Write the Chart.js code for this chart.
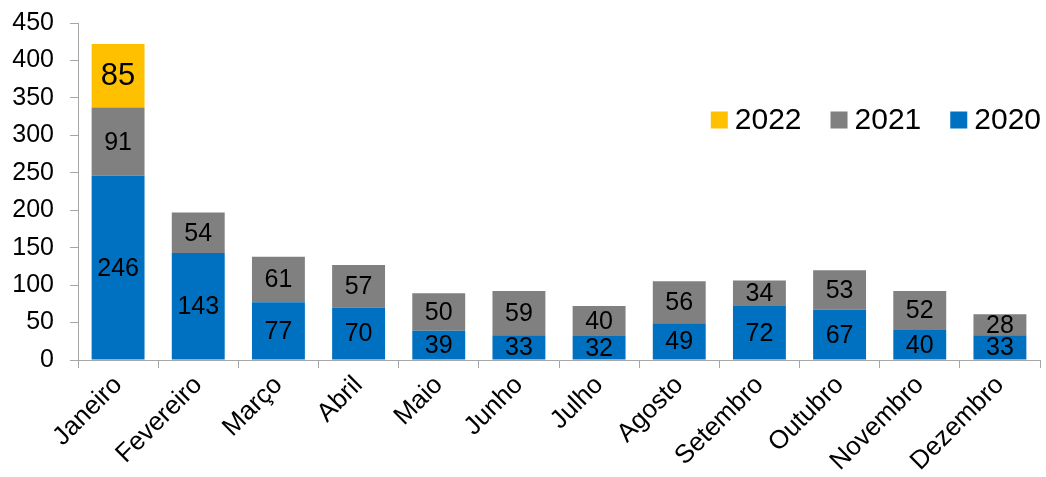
<!DOCTYPE html>
<html>
<head>
<meta charset="utf-8">
<script src="https://cdn.jsdelivr.net/npm/chart.js@4/dist/chart.umd.min.js"></script>
<style>
  html, body { margin: 0; padding: 0; background: #fff; }
  #chart { display: block; }
</style>
</head>
<body>
<canvas id="chart" width="1046" height="477"></canvas>
<script>
const months = ['Janeiro', 'Fevereiro', 'Março', 'Abril', 'Maio', 'Junho', 'Julho', 'Agosto', 'Setembro', 'Outubro', 'Novembro', 'Dezembro'];
const values2020 = [246, 143, 77, 70, 39, 33, 32, 49, 72, 67, 40, 33];
const values2021 = [91, 54, 61, 57, 50, 59, 40, 56, 34, 53, 52, 28];
const values2022 = [85, null, null, null, null, null, null, null, null, null, null, null];
const yTicks = [0, 50, 100, 150, 200, 250, 300, 350, 400, 450];

const fontFamily = '"Liberation Sans", Arial, sans-serif';
const axisColor = '#A6A6A6';

// value labels centred in each stacked segment
const segmentLabels = {
  id: 'segmentLabels',
  afterDatasetsDraw(chart) {
    const { ctx } = chart;
    ctx.save();
    ctx.textAlign = 'center';
    ctx.textBaseline = 'middle';
    ctx.fillStyle = '#000';
    chart.data.datasets.forEach((dataset, i) => {
      const meta = chart.getDatasetMeta(i);
      ctx.font = `${dataset.labelSize}px ${fontFamily}`;
      meta.data.forEach((bar, j) => {
        const value = dataset.data[j];
        if (value == null) return;
        const { x, y, base } = bar.getProps(['x', 'y', 'base'], true);
        ctx.fillText(String(value), x, (y + base) / 2 + 1);
      });
    });
    ctx.restore();
  }
};

// legend drawn inside the plot, right aligned, newest year first
const insideLegend = {
  id: 'insideLegend',
  afterDraw(chart) {
    const { ctx, chartArea } = chart;
    const size = 17, gap = 7, spacing = 29, y = 120;
    ctx.save();
    ctx.font = `30px ${fontFamily}`;
    ctx.textBaseline = 'middle';
    ctx.textAlign = 'left';
    let x = chartArea.right + 1;
    [...chart.data.datasets].forEach((dataset) => {
      const w = ctx.measureText(dataset.label).width;
      x -= w;
      ctx.fillStyle = '#000';
      ctx.fillText(dataset.label, x, y + 1);
      x -= gap + size;
      ctx.fillStyle = dataset.backgroundColor;
      ctx.fillRect(x, y - size / 2, size, size);
      x -= spacing;
    });
    ctx.restore();
  }
};

new Chart(document.getElementById('chart'), {
  type: 'bar',
  data: {
    labels: months,
    datasets: [
      { label: '2020', data: values2020, backgroundColor: '#0070C0', labelSize: 25 },
      { label: '2021', data: values2021, backgroundColor: '#808080', labelSize: 25 },
      { label: '2022', data: values2022, backgroundColor: '#FFC000', labelSize: 31 }
    ]
  },
  options: {
    responsive: false,
    animation: false,
    layout: { padding: { top: 23, right: 6, left: 0, bottom: 0 } },
    datasets: { bar: { barPercentage: 0.66, categoryPercentage: 1 } },
    plugins: {
      legend: { display: false },
      tooltip: { enabled: false }
    },
    scales: {
      x: {
        stacked: true,
        afterFit(scale) { scale.height = 117; },
        grid: { offset: true, drawOnChartArea: false, tickLength: 8, color: axisColor },
        border: { color: axisColor, width: 1 },
        ticks: {
          color: '#000',
          font: { family: fontFamily, size: 26 },
          minRotation: 45,
          maxRotation: 45,
          padding: 2
        }
      },
      y: {
        stacked: true,
        min: yTicks[0],
        max: yTicks[yTicks.length - 1],
        afterFit(scale) {
          scale.width = 78;
          scale.paddingTop = 0;
          scale.paddingBottom = 0;
        },
        afterBuildTicks(scale) { scale.ticks = yTicks.map((v) => ({ value: v })); },
        grid: { drawOnChartArea: false, tickLength: 8, color: axisColor },
        border: { color: axisColor, width: 1 },
        ticks: {
          color: '#000',
          font: { family: fontFamily, size: 25 },
          padding: 16
        }
      }
    }
  },
  plugins: [segmentLabels, insideLegend]
});
</script>
</body>
</html>
